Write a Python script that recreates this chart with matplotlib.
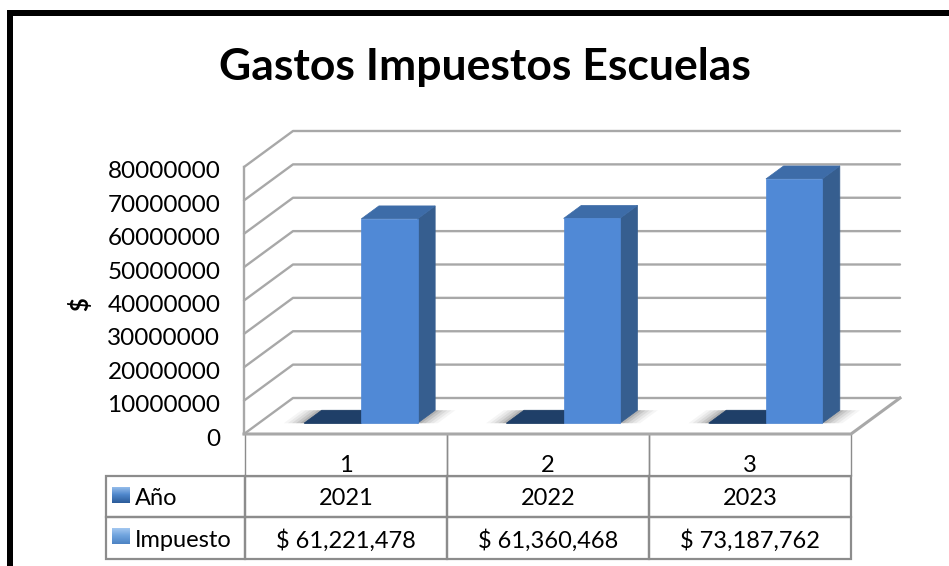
import matplotlib
matplotlib.use("Agg")
import matplotlib.pyplot as plt
import numpy as np
from matplotlib.colors import LinearSegmentedColormap
from matplotlib.patches import Polygon, Rectangle
from matplotlib.table import Table
from matplotlib.transforms import ScaledTranslation

plt.rcParams['font.family'] = ['Lato', 'DejaVu Sans']

# Data
title = 'Gastos Impuestos Escuelas'
categories = ['1', '2', '3']
anio = [2021, 2022, 2023]
impuesto = [61221478, 61360468, 73187762]
impuesto_labels = ['$ 61,221,478', '$ 61,360,468', '$ 73,187,762']
row_names = ['', 'Año', 'Impuesto']
y_ticks = [0, 10000000, 20000000, 30000000, 40000000, 50000000, 60000000, 70000000, 80000000]

W, H = 949, 566
ymax = 80000000

# depth shift of the back wall, in axes data units
dx_back = 49 / (607 / 3)
dy_back = 36 * ymax / 267

grid_col = '#A8A8A8'


# =========================================================================
def P(x, v, d=0):
	# oblique projection, d = 0 front, d = 1 back wall
	return (x + d*dx_back, v + d*dy_back)


def px_rect(x0, y0, x1, y1):
	# figure rectangle from image pixels
	return [x0/W, 1 - y1/H, (x1 - x0)/W, (y1 - y0)/H]


def Box(ax, x0, x1, v, d0, d1, front, top, side):
	ax.add_patch(Polygon([P(x1, 0, d0), P(x1, 0, d1), P(x1, v, d1), P(x1, v, d0)], fc=side, ec=side, lw=0.5, clip_on=False, zorder=4))
	ax.add_patch(Polygon([P(x0, v, d0), P(x1, v, d0), P(x1, v, d1), P(x0, v, d1)], fc=top, ec=top, lw=0.5, clip_on=False, zorder=4))
	ax.add_patch(Polygon([P(x0, 0, d0), P(x1, 0, d0), P(x1, v, d0), P(x0, v, d0)], fc=front, ec=front, lw=0.5, clip_on=False, zorder=5))


# =========================================================================
fig = plt.figure(figsize=(W/100, H/100), dpi=100)
ax = fig.add_axes(px_rect(244, 167, 851, 434))
ax.set_xlim(0, 3)
ax.set_ylim(0, ymax)
ax.patch.set_visible(False)
for s in ax.spines.values():
	s.set_visible(False)

ax.set_xticks([])
ax.set_yticks(y_ticks)
ax.set_yticklabels([str(t) for t in y_ticks], fontsize=17.5)
ax.tick_params(axis='y', length=0, pad=17)
shift = ScaledTranslation(0, -3/100, fig.dpi_scale_trans)
for lab in ax.get_yticklabels():
	lab.set_transform(lab.get_transform() + shift)
ax.set_ylabel('$', fontsize=17, fontweight='bold')
ax.yaxis.set_label_coords(-(244 - 92)/607, 0.487)

# walls
for t in y_ticks:
	ax.plot(*zip(P(0, t), P(0, t, 1), P(3, t, 1)), color=grid_col, lw=1.7, clip_on=False, zorder=1, solid_capstyle='round')
ax.plot(*zip(P(0, 0), P(0, ymax)), color=grid_col, lw=1.7, clip_on=False, zorder=1)
ax.plot(*zip(P(0, 0), P(3, 0), P(3, 0, 1)), color=grid_col, lw=2.2, clip_on=False, zorder=1)

# bars
d0 = 0.3
d1 = 0.66
for i in range(3):
	# soft shadow on the floor
	for grow, alpha in [(0.10, 0.05), (0.08, 0.07), (0.06, 0.09), (0.04, 0.12), (0.02, 0.16), (0.0, 0.2)]:
		ax.add_patch(Polygon([P(i + 0.224 - grow, 0, d0), P(i + 0.785 + grow, 0, d0), P(i + 0.785 + grow, 0, d1), P(i + 0.224 - grow, 0, d1)], fc='#444444', ec='none', alpha=alpha, clip_on=False, zorder=2))
	Box(ax, i + 0.224, i + 0.507, anio[i], d0, d1, '#1F3F68', '#1F3F68', '#1F3F68')
	Box(ax, i + 0.507, i + 0.785, impuesto[i], d0, d1, '#5089D6', '#3D6CA8', '#365E8F')

# data table
left = (106 - 244) / 607
cell_text = [[row_names[0]] + categories,
	[row_names[1]] + [str(a) for a in anio],
	[row_names[2]] + impuesto_labels]
tab = Table(ax, bbox=[left, -125/267, 1 - left, 125/267])
tab.auto_set_font_size(False)
for r, row in enumerate(cell_text):
	for c, txt in enumerate(row):
		width = 139/607 if c == 0 else 1/3
		cell = tab.add_cell(r, c, width=width, height=1/3, text=txt, loc='left' if c == 0 else 'center', facecolor='none', edgecolor='#8C8C8C')
		cell.set_fontsize(17)
		cell.set_linewidth(1.6)
		cell.get_text().set_verticalalignment('top' if r == 0 else 'center_baseline')
		if c == 0:
			cell.PAD = 0.205
			if r == 0:
				cell.visible_edges = ''
		elif r == 0:
			cell.visible_edges = 'LRB'
			cell.set_linewidth(1.0)
ax.add_table(tab)

# legend keys in the table
key_cmap = LinearSegmentedColormap.from_list('key', ['#9CC2EE', '#4F87CC', '#2C5C9A'])
key_cmap2 = LinearSegmentedColormap.from_list('key2', ['#A9CBF2', '#6FA3DE', '#4E84C4'])
for top, cmap in [(487, key_cmap), (528, key_cmap2)]:
	kax = fig.add_axes(px_rect(112, top, 130, top + 16))
	kax.imshow(np.linspace(0, 1, 32).reshape(-1, 1), cmap=cmap, aspect='auto')
	kax.axis('off')

fig.text(485/W, 1 - 67/H, title, fontsize=32, fontweight='bold', ha='center', va='center', color='black')

# black frame, only top and left are inside the picture
fig.add_artist(Rectangle((7/W, 0), 6/W, 1 - 10/H, fc='black', ec='none', transform=fig.transFigure))
fig.add_artist(Rectangle((7/W, 1 - 16/H), 1 - 7/W, 6/H, fc='black', ec='none', transform=fig.transFigure))

fig.savefig('out.png', dpi=100)
